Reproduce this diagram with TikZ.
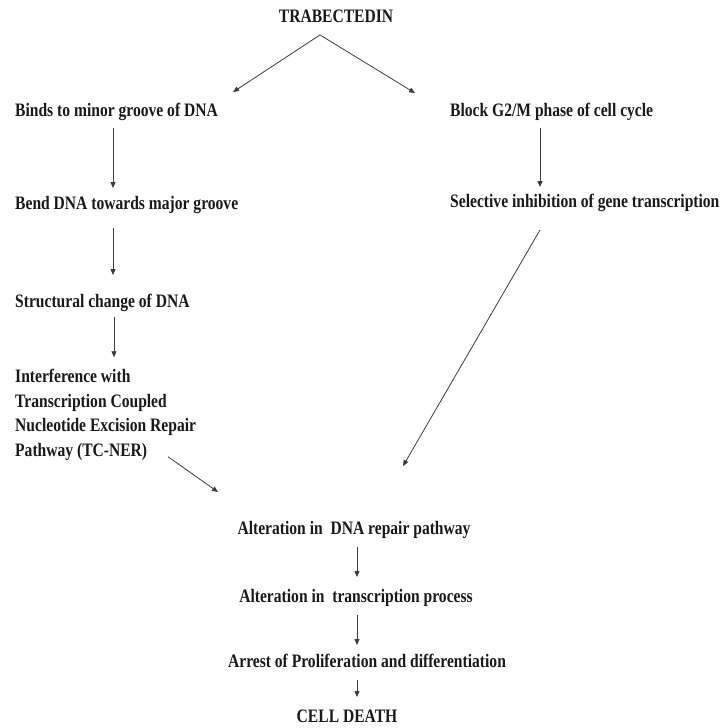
\documentclass[tikz,border=0pt]{standalone}
\usepackage{fontspec}
\setmainfont{Liberation Serif}[FakeStretch=0.82]
\usepackage{tikz}
\usetikzlibrary{arrows.meta,calc}
\definecolor{Ink}{RGB}{25, 25, 25}
\definecolor{Line}{RGB}{60, 60, 60}

\begin{document}
\begin{tikzpicture}[x=1pt, y=-1pt,
    step text/.style={font=\fontsize{19}{24.5}\selectfont\bfseries, text=Ink, inner sep=0pt,
        text height=12pt, text depth=3.5pt},
    arr/.style={draw=Line, line width=0.8pt, -{Triangle[length=6pt,width=5pt]}}]
    %%Background
    \useasboundingbox (0,0) rectangle (722,728);

    %% Top
    \node[step text] (trab) at (336,18) {TRABECTEDIN};

    %% Left branch
    \node[step text, anchor=west] (binds) at (15,112) {Binds to minor groove of DNA};
    \node[step text, anchor=west] (bend) at (15,205) {Bend DNA towards major groove};
    \node[step text, anchor=west] (struct) at (15,303) {Structural change of DNA};
    \node[step text, anchor=west, align=left, text height=, text depth=] (interf) at (15,415)
    {Interference with\\Transcription Coupled\\Nucleotide Excision Repair\\Pathway (TC-NER)};

    %% Right branch
    \node[step text, anchor=west] (block) at (450,112) {Block G2/M phase of cell cycle};
    \node[step text, anchor=west] (select) at (450,203) {Selective inhibition of gene transcription};

    %% Bottom
    \node[step text] (altdna) at (354,530) {Alteration in\ \ DNA repair pathway};
    \node[step text] (alttrans) at (356,598) {Alteration in\ \ transcription process};
    \node[step text] (arrest) at (367,663) {Arrest of Proliferation and differentiation};
    \node[step text] (death) at (347,718) {CELL DEATH};

    %% Arrows
    \draw[arr] ([shift={(-16,9)}]trab.south) -- ([shift={(218,-12)}]binds.north west);
    \draw[arr] ([shift={(-16,9)}]trab.south) -- ([shift={(-35,-11)}]block.north west);
    \draw[arr] ([shift={(98,8)}]binds.south west) -- ([shift={(98,-9)}]bend.north west);
    \draw[arr] ([shift={(90,8)}]block.south west) -- ([shift={(90,-8)}]select.north west);
    \draw[arr] ([shift={(98,15)}]bend.south west) -- ([shift={(98,-20)}]struct.north west);
    \draw[arr] ([shift={(99,6)}]struct.south west) -- ([shift={(99,-12)}]interf.north west);
    \draw[arr] ([shift={(90,19)}]select.south west) -- ([shift={(49,-56)}]altdna.north);
    \draw[arr] ([shift={(153,-4)}]interf.south west) -- ([shift={(-136,-30)}]altdna.north);
    \draw[arr] ([shift={(3,9)}]altdna.south) -- ([shift={(1,-13)}]alttrans.north);
    \draw[arr] ([shift={(1,9)}]alttrans.south) -- ([shift={(-10,-10)}]arrest.north);
    \draw[arr] ([shift={(-10,9)}]arrest.south) -- ([shift={(10,-13)}]death.north);
\end{tikzpicture}
\end{document}
